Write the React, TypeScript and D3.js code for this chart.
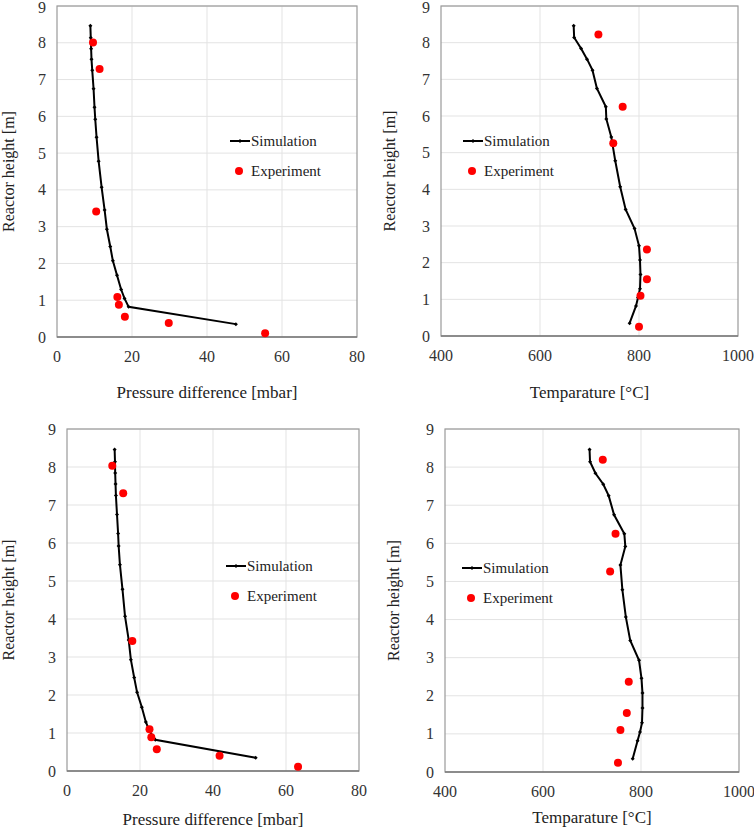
import * as d3 from "d3";

// heights of the simulation nodes [m]
const simHeight = [8.46, 8.14, 7.84, 7.55, 7.25, 6.75, 6.25, 5.92, 5.43, 4.78, 4.07, 3.45, 2.93, 2.46, 2.07, 1.68, 1.29, 1.05, 0.82, 0.35];

const simPressureA = [8.9, 9.0, 9.1, 9.2, 9.4, 9.75, 10.0, 10.2, 10.55, 11.1, 11.9, 12.7, 13.3, 14.2, 14.9, 16.0, 17.1, 18.0, 19.1, 47.7];
const simTempA = [668, 669, 683, 695, 706, 715, 733, 734, 744, 752, 762, 773, 791, 800, 802, 803, 802, 798, 794, 781];
const simPressureB = [13.05, 13.15, 13.2, 13.3, 13.4, 13.7, 14.0, 14.15, 14.5, 15.2, 15.9, 16.9, 17.5, 18.4, 19.2, 20.5, 21.6, 22.6, 24.2, 51.7];
const simTempB = [695, 696, 707, 723, 734, 745, 766, 768, 758, 762, 769, 778, 796, 801, 803, 803, 802, 798, 793, 783];

const expPressureA = [9.6, 11.35, 10.45, 16.1, 16.5, 18.1, 29.8, 55.5];
const expPressureAHeight = [8.01, 7.29, 3.41, 1.09, 0.88, 0.55, 0.38, 0.1];
const expTempA = [718, 767, 748, 816, 816, 803, 800];
const expTempAHeight = [8.22, 6.25, 5.26, 2.36, 1.55, 1.1, 0.25];
const expPressureB = [12.4, 15.4, 17.9, 22.6, 23.1, 24.6, 41.8, 63.3];
const expPressureBHeight = [8.03, 7.31, 3.42, 1.1, 0.89, 0.57, 0.4, 0.11];
const expTempB = [722, 748, 737, 775, 771, 758, 753];
const expTempBHeight = [8.19, 6.25, 5.26, 2.37, 1.55, 1.1, 0.24];

const heightTicks = [0, 1, 2, 3, 4, 5, 6, 7, 8, 9];
const pressureTicks = [0, 20, 40, 60, 80];
const tempTicks = [400, 600, 800, 1000];

const FONT = "Liberation Serif, DejaVu Serif, serif";

interface PanelProps {
  box: { left: number; right: number; top: number; bottom: number };
  xDomain: [number, number];
  xTicks: number[];
  simX: number[];
  expX: number[];
  expY: number[];
  xTitle: string;
  xTitleY: number;
  yTitleX: number;
  legend: { x: number; y: number };
}

function Panel({ box, xDomain, xTicks, simX, expX, expY, xTitle, xTitleY, yTitleX, legend }: PanelProps) {
  const x = d3.scaleLinear().domain(xDomain).range([box.left, box.right]);
  const y = d3.scaleLinear().domain([0, 9]).range([box.bottom, box.top]);
  const sim = simX.map((v, i) => [v, simHeight[i]] as [number, number]);
  const line = d3.line<[number, number]>().x((d) => x(d[0])).y((d) => y(d[1]));
  const diamond = (cx: number, cy: number, s: number) =>
    `M${cx},${cy - s}L${cx + s},${cy}L${cx},${cy + s}L${cx - s},${cy}Z`;
  const txt = { fontFamily: FONT };

  return (
    <g>
      {/* grid */}
      {heightTicks.slice(1).map((t) => (
        <line key={"h" + t} x1={box.left} x2={box.right} y1={y(t)} y2={y(t)} stroke="#e3e3e3" strokeWidth={1} />
      ))}
      {xTicks.slice(1, -1).map((t) => (
        <line key={"v" + t} x1={x(t)} x2={x(t)} y1={box.top} y2={box.bottom} stroke="#e3e3e3" strokeWidth={1} />
      ))}
      <rect x={box.left} y={box.top} width={box.right - box.left} height={box.bottom - box.top} fill="none" stroke="#9a9a9a" strokeWidth={1.2} />
      <line x1={box.left} x2={box.right} y1={box.bottom} y2={box.bottom} stroke="#7a7a7a" strokeWidth={1.5} />

      {/* ticks */}
      {heightTicks.map((t) => (
        <text key={"yt" + t} style={txt} x={box.left - 11} y={Math.max(y(t) + 5.5, 13)} textAnchor="end" fontSize={16} fill="#333">
          {t}
        </text>
      ))}
      {xTicks.map((t) => (
        <text key={"xt" + t} style={txt} x={x(t)} y={box.bottom + 25} textAnchor="middle" fontSize={16} fill="#333">
          {t}
        </text>
      ))}

      {/* titles */}
      <text style={txt} x={(box.left + box.right) / 2} y={xTitleY} textAnchor="middle" fontSize={17} fill="#222">
        {xTitle}
      </text>
      <text
        style={txt}
        transform={`translate(${yTitleX + 5},${(box.top + box.bottom) / 2}) rotate(-90)`}
        textAnchor="middle"
        fontSize={16}
        fill="#222"
      >
        Reactor height [m]
      </text>

      {/* simulation */}
      <path d={line(sim) ?? ""} fill="none" stroke="#000" strokeWidth={2} />
      {sim.map((d, i) => (
        <path key={"m" + i} d={diamond(x(d[0]), y(d[1]), 2)} fill="#000" />
      ))}

      {/* experiment */}
      {expX.map((v, i) => (
        <circle key={"e" + i} cx={x(v)} cy={y(expY[i])} r={4} fill="#ff0000" />
      ))}

      {/* legend */}
      <line x1={legend.x} x2={legend.x + 20} y1={legend.y} y2={legend.y} stroke="#000" strokeWidth={2} />
      <path d={diamond(legend.x + 10, legend.y, 2)} fill="#000" />
      <text style={txt} x={legend.x + 21} y={legend.y + 5} fontSize={15} fill="#222">
        Simulation
      </text>
      <circle cx={legend.x + 9} cy={legend.y + 30} r={4} fill="#ff0000" />
      <text style={txt} x={legend.x + 21} y={legend.y + 35} fontSize={15} fill="#222">
        Experiment
      </text>
    </g>
  );
}

export default function App() {
  return (
    <svg width={754} height={829} style={{ position: "absolute", left: 0, top: 0, background: "#fff" }}>
      <Panel
        box={{ left: 57, right: 357, top: 6, bottom: 337 }}
        xDomain={[0, 80]}
        xTicks={pressureTicks}
        simX={simPressureA}
        expX={expPressureA}
        expY={expPressureAHeight}
        xTitle="Pressure difference [mbar]"
        xTitleY={398}
        yTitleX={9}
        legend={{ x: 230, y: 141 }}
      />
      <Panel
        box={{ left: 441, right: 738, top: 6, bottom: 336 }}
        xDomain={[400, 1000]}
        xTicks={tempTicks}
        simX={simTempA}
        expX={expTempA}
        expY={expTempAHeight}
        xTitle="Temparature [°C]"
        xTitleY={398}
        yTitleX={390}
        legend={{ x: 463, y: 141 }}
      />
      <Panel
        box={{ left: 67, right: 359, top: 429, bottom: 771 }}
        xDomain={[0, 80]}
        xTicks={pressureTicks}
        simX={simPressureB}
        expX={expPressureB}
        expY={expPressureBHeight}
        xTitle="Pressure difference [mbar]"
        xTitleY={825}
        yTitleX={9}
        legend={{ x: 226, y: 566 }}
      />
      <Panel
        box={{ left: 445, right: 739, top: 429, bottom: 772 }}
        xDomain={[400, 1000]}
        xTicks={tempTicks}
        simX={simTempB}
        expX={expTempB}
        expY={expTempBHeight}
        xTitle="Temparature [°C]"
        xTitleY={823}
        yTitleX={394}
        legend={{ x: 462, y: 568 }}
      />
    </svg>
  );
}
